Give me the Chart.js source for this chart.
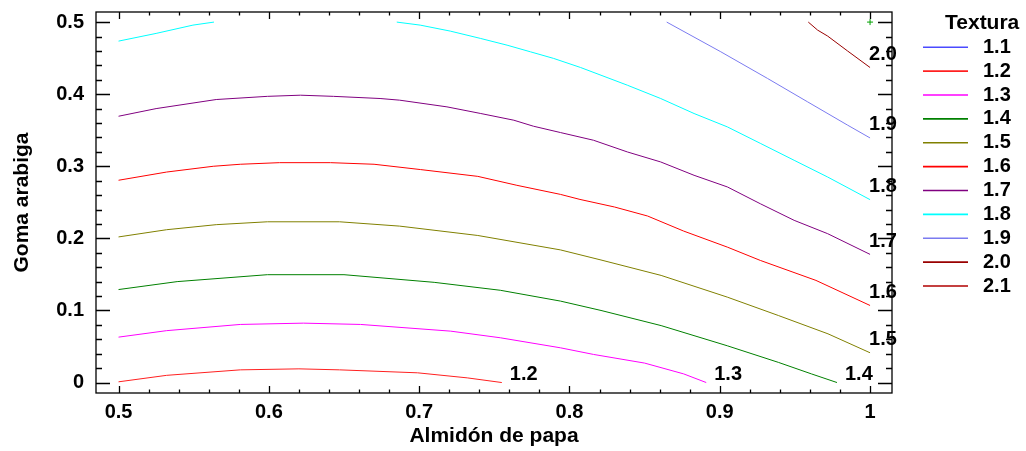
<!DOCTYPE html>
<html>
<head>
<meta charset="utf-8">
<script src="https://cdn.jsdelivr.net/npm/chart.js@4.4.1/dist/chart.umd.min.js"></script>
<style>
  html, body { margin: 0; padding: 0; background: #fff; }
</style>
</head>
<body>
<canvas id="texturaContour" width="1026" height="451"></canvas>
<script>
// contour levels of Textura and the ticks of both axes
var levels = ['1.1', '1.2', '1.3', '1.4', '1.5', '1.6', '1.7', '1.8', '1.9', '2.0', '2.1'];
var xTicks = [0.5, 0.6, 0.7, 0.8, 0.9, 1];
var yTicks = [0, 0.1, 0.2, 0.3, 0.4, 0.5];

// each contour as (almidon, goma) points
var t12 = [[0.5, 0.001], [0.532, 0.010], [0.581, 0.0176], [0.62, 0.019], [0.647, 0.0176], [0.699, 0.0135], [0.732, 0.0065], [0.755, 0]];
var t13 = [[0.5, 0.063], [0.532, 0.072], [0.581, 0.0806], [0.623, 0.0824], [0.661, 0.0806], [0.721, 0.0713], [0.754, 0.0621], [0.794, 0.0482], [0.816, 0.039], [0.85, 0.027], [0.876, 0.012], [0.891, 0]];
var t14 = [[0.5, 0.129], [0.539, 0.140], [0.599, 0.1496], [0.65, 0.1496], [0.71, 0.139], [0.754, 0.128], [0.794, 0.113], [0.821, 0.100], [0.861, 0.079], [0.905, 0.051], [0.939, 0.028], [0.961, 0.012], [0.978, 0]];
var t15 = [[0.5, 0.202], [0.532, 0.212], [0.565, 0.219], [0.599, 0.223], [0.647, 0.223], [0.687, 0.217], [0.739, 0.204], [0.794, 0.184], [0.821, 0.170], [0.861, 0.1486], [0.905, 0.1185], [0.939, 0.093], [0.972, 0.0676], [1, 0.0413]];
var t16 = [[0.5, 0.2806], [0.532, 0.292], [0.563, 0.300], [0.581, 0.3028], [0.607, 0.305], [0.641, 0.305], [0.67, 0.3028], [0.701, 0.2954], [0.739, 0.286], [0.765, 0.2736], [0.794, 0.261], [0.807, 0.254], [0.83, 0.2435], [0.852, 0.231], [0.876, 0.2101], [0.905, 0.1879], [0.927, 0.1694], [0.964, 0.1417], [1, 0.1069]];
var t17 = [[0.5, 0.3694], [0.525, 0.380], [0.565, 0.3926], [0.599, 0.397], [0.621, 0.3986], [0.643, 0.397], [0.674, 0.394], [0.687, 0.3917], [0.7185, 0.3824], [0.741, 0.3732], [0.763, 0.3639], [0.776, 0.3556], [0.794, 0.3468], [0.816, 0.3361], [0.8385, 0.3199], [0.8607, 0.306], [0.8829, 0.2875], [0.9051, 0.2713], [0.927, 0.248], [0.9495, 0.225], [0.9718, 0.2065], [1, 0.1778]];
var t18 = [[0.5, 0.4736], [0.525, 0.4843], [0.5495, 0.4958], [0.5635, 0.5], [0.62, null], [0.6851, 0.5], [0.7007, 0.4958], [0.7207, 0.4875], [0.7407, 0.4774], [0.7585, 0.468], [0.774, 0.4588], [0.7895, 0.4496], [0.8073, 0.4371], [0.8385, 0.4125], [0.8607, 0.394], [0.8829, 0.3732], [0.9051, 0.3546], [0.9273, 0.3315], [0.9495, 0.3083], [0.9718, 0.2851], [1, 0.2537]];
var t19 = [[0.8647, 0.5], [0.9007, 0.4588], [0.9318, 0.4218], [0.9585, 0.3893], [0.9851, 0.357], [1, 0.3393]];
var t20 = [[0.9589, 0.5], [0.9651, 0.4889], [0.9718, 0.4806], [0.985, 0.460], [1, 0.437]];
var designPoint = [[1, 0.5]];

var contourData = [[], t12, t13, t14, t15, t16, t17, t18, t19, t20, []];
var lineColors = ['#4a4aff', '#ff2020', '#ff00ff', '#008000', '#808000', '#ff0000', '#800080', '#00ffff', '#7b7bf0', '#990000', '#b00000'];

var FONT = 'bold 20px "Liberation Sans", Arial, sans-serif';
var tickFont = { family: '"Liberation Sans", Arial, sans-serif', size: 20, weight: 'bold' };
var titleFont = { family: '"Liberation Sans", Arial, sans-serif', size: 21, weight: 'bold' };

function toPoints(arr) {
  return arr.map(function (p) { return { x: p[0], y: p[1] }; });
}

var datasets = levels.map(function (lv, i) {
  return {
    label: lv,
    level: true,
    data: toPoints(contourData[i]),
    borderColor: lineColors[i],
    backgroundColor: lineColors[i],
    borderWidth: 1,
    showLine: true,
    spanGaps: false,
    pointRadius: 0,
    tension: 0
  };
});
datasets.push({
  label: 'punto',
  data: toPoints(designPoint),
  showLine: false,
  pointStyle: 'cross',
  pointRadius: 3,
  borderColor: '#00a000',
  borderWidth: 1
});

// frame with inward ticks, line labels and the level legend
var contourDecor = {
  id: 'contourDecor',
  afterDatasetsDraw: function (chart) {
    var ctx = chart.ctx, a = chart.chartArea;
    var xs = chart.scales.x, ys = chart.scales.y;
    ctx.save();
    ctx.strokeStyle = '#000';
    ctx.lineWidth = 1.3;
    ctx.strokeRect(a.left, a.top, a.right - a.left, a.bottom - a.top);

    ctx.beginPath();
    var i, v, px, len;
    for (i = 0; i <= 25; i++) {
      v = xTicks[0] + i * 0.02;
      px = Math.round(xs.getPixelForValue(v)) + 0.5;
      len = i % 5 === 0 ? 7 : 3.5;
      ctx.moveTo(px, a.bottom); ctx.lineTo(px, a.bottom - len);
      ctx.moveTo(px, a.top); ctx.lineTo(px, a.top + len);
    }
    for (i = 0; i <= 25; i++) {
      v = yTicks[0] + i * 0.02;
      px = Math.round(ys.getPixelForValue(v)) + 0.5;
      len = i % 5 === 0 ? 14 : 6;
      ctx.moveTo(a.left, px); ctx.lineTo(a.left + len, px);
      ctx.moveTo(a.right, px); ctx.lineTo(a.right - len, px);
    }
    ctx.stroke();

    ctx.font = FONT;
    ctx.fillStyle = '#000';
    ctx.textBaseline = 'middle';
    ctx.textAlign = 'left';
    chart.data.datasets.forEach(function (ds) {
      if (!ds.level || !ds.data.length) return;
      var last = ds.data[ds.data.length - 1];
      var lx = xs.getPixelForValue(last.x), ly = ys.getPixelForValue(last.y);
      if (last.x >= 1) {
        ctx.fillText(ds.label, lx - 1, ly - 13);
      } else {
        ctx.fillText(ds.label, lx + 8, ly - 8);
      }
    });

    // legend
    ctx.font = 'bold 21px "Liberation Sans", Arial, sans-serif';
    ctx.fillText('Textura', 945, 23);
    ctx.font = FONT;
    var k = 0;
    chart.data.datasets.forEach(function (ds) {
      if (!ds.level) return;
      var y = 47.3 + k * 23.87;
      ctx.strokeStyle = ds.borderColor;
      ctx.lineWidth = 1.6;
      ctx.beginPath();
      ctx.moveTo(923, y); ctx.lineTo(968, y);
      ctx.stroke();
      ctx.fillStyle = '#000';
      ctx.fillText(ds.label, 983, y);
      k++;
    });
    ctx.restore();
  }
};

function tickText(value) {
  return value === 0 ? '0' : value === 1 ? '1' : value.toFixed(1);
}

new Chart(document.getElementById('texturaContour').getContext('2d'), {
  type: 'scatter',
  data: { datasets: datasets },
  options: {
    responsive: false,
    animation: false,
    devicePixelRatio: 1,
    layout: { padding: { top: 12, right: 134, left: 0, bottom: 0 } },
    plugins: { legend: { display: false }, tooltip: { enabled: false } },
    scales: {
      x: {
        type: 'linear',
        min: 0.485,
        max: 1.0146,
        grid: { display: false, drawTicks: false },
        border: { display: false },
        afterBuildTicks: function (s) { s.ticks = xTicks.map(function (v) { return { value: v }; }); },
        afterFit: function (s) { s.height = 58; s.paddingLeft = 0; s.paddingRight = 0; },
        ticks: {
          color: '#000',
          padding: 7,
          maxRotation: 0,
          font: tickFont,
          callback: function (v) { return tickText(v); }
        },
        title: {
          display: true,
          text: 'Almidón de papa',
          color: '#000',
          padding: { top: 0, bottom: 2 },
          font: titleFont
        }
      },
      y: {
        type: 'linear',
        min: -0.0145,
        max: 0.514,
        grid: { display: false, drawTicks: false },
        border: { display: false },
        afterBuildTicks: function (s) { s.ticks = yTicks.map(function (v) { return { value: v }; }); },
        afterFit: function (s) { s.width = 96; s.paddingTop = 0; s.paddingBottom = 0; },
        ticks: {
          color: '#000',
          padding: 12,
          font: tickFont,
          callback: function (v) { return tickText(v); }
        },
        title: {
          display: true,
          text: 'Goma arabiga',
          color: '#000',
          padding: { top: 10, bottom: 0 },
          font: titleFont
        }
      }
    }
  },
  plugins: [contourDecor]
});
</script>
</body>
</html>
